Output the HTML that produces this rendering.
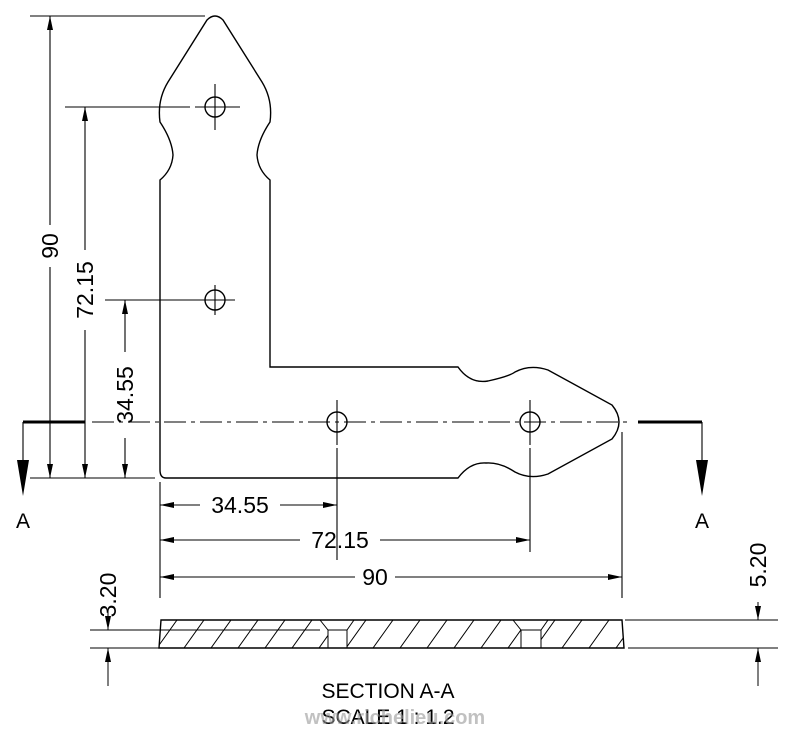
<!DOCTYPE html>
<html><head><style>body{margin:0;background:#fff}svg{display:block}text{font-family:"Liberation Sans",sans-serif;fill:#000}</style></head><body>
<svg width="792" height="733" viewBox="0 0 792 733" xmlns="http://www.w3.org/2000/svg">
<defs>
<marker id="ar" viewBox="0 0 14 6" refX="14" refY="3" markerWidth="14" markerHeight="6" markerUnits="userSpaceOnUse" orient="auto-start-reverse"><path d="M0,0L14,3L0,6z" fill="#000"/></marker>
<clipPath id="sec"><path d="M161,620L622,620L624,648L159,648z"/></clipPath>
</defs>
<g fill="none" stroke="#000" stroke-width="1.4">
<path d="M160,470 L160,180 Q172,170 173,155 Q172,140 160,122 Q157,100 168,82 L207,20 Q215,12 223,20 L262,82 Q273,100 270,122 Q258,140 257,155 Q258,170 270,180 L270,367 L458,367 Q470,384 488,381 Q510,376 515,372 Q530,364 548,370 L612,405 Q626,422 612,439 L548,474 Q530,480 515,472 Q500,462 486,463 Q470,462 458,478 L166,478 Q160,478 160,470 Z"/>
<circle cx="215" cy="107" r="10"/><circle cx="215" cy="300" r="10"/>
<circle cx="337" cy="422" r="10"/><circle cx="530" cy="422" r="10"/>
</g>
<g stroke="#000" stroke-width="1.1" fill="none">
<path d="M215,84V130M190,107H185M195,107H240M215,285V315M200,300H235"/>
<path d="M337,400V445M530,400V445"/>
<path d="M92,422H630" stroke-dasharray="22,5,4,5"/>
<path d="M30,16H205M65,107H185M105,300H200M30,478H155"/>
<path d="M50,16V225M50,267V478" marker-start="url(#ar)" marker-end="url(#ar)"/>
<path d="M85,107V250M85,330V478" marker-start="url(#ar)" marker-end="url(#ar)"/>
<path d="M125,300V352M125,438V478" marker-start="url(#ar)" marker-end="url(#ar)"/>
<path d="M160,482V598M337,448V560M530,448V552M622,432V598"/>
<path d="M160,505H200" marker-start="url(#ar)"/><path d="M280,505H337" marker-end="url(#ar)"/>
<path d="M160,540H300" marker-start="url(#ar)"/><path d="M380,540H530" marker-end="url(#ar)"/>
<path d="M160,577H355" marker-start="url(#ar)"/><path d="M395,577H622" marker-end="url(#ar)"/>
<path d="M23,422H85M638,422H702" stroke-width="3"/>
<path d="M23,422V488M702,422V488"/>
</g>
<path d="M17,460L29,460L23,496z M696,460L708,460L702,496z" fill="#000"/>
<g stroke="#000" stroke-width="1" fill="none">
<g clip-path="url(#sec)">
<path d="M130,648L150,620M157,648L177,620M184,648L204,620M211,648L231,620M238,648L258,620M265,648L285,620M292,648L312,620M319,648L339,620M346,648L366,620M373,648L393,620M400,648L420,620M427,648L447,620M454,648L474,620M481,648L501,620M508,648L528,620M535,648L555,620M562,648L582,620M589,648L609,620M616,648L636,620"/>
</g>
<rect x="328" y="630" width="19" height="18" fill="#fff" stroke="none"/>
<rect x="521" y="630" width="20" height="18" fill="#fff" stroke="none"/>
<path d="M320,620L328,630H347L354,620z M513,620L521,630H541L548,620z" fill="#fff" stroke="none"/>
<path d="M161,620L622,620L624,648L159,648z" stroke-width="1.4"/>
<path d="M320,620L328,630H347L354,620M328,630V648M347,630V648M513,620L521,630H541L548,620M521,630V648M541,630V648"/>
<path d="M90,630H320M90,648H160M625,620H778M628,648H778"/>
<path d="M108,612V630" marker-end="url(#ar)"/><path d="M108,686V648" marker-end="url(#ar)"/>
<path d="M758,602V620" marker-end="url(#ar)"/><path d="M758,686V648" marker-end="url(#ar)"/>
</g>
<g font-size="23">
<text transform="translate(58,246) rotate(-90)" text-anchor="middle">90</text>
<text transform="translate(93,290) rotate(-90)" text-anchor="middle">72.15</text>
<text transform="translate(133,395) rotate(-90)" text-anchor="middle">34.55</text>
<text transform="translate(116,595) rotate(-90)" text-anchor="middle">3.20</text>
<text transform="translate(766,565) rotate(-90)" text-anchor="middle">5.20</text>
<text x="240" y="513" text-anchor="middle">34.55</text>
<text x="340" y="548" text-anchor="middle">72.15</text>
<text x="375" y="585" text-anchor="middle">90</text>
<text x="23" y="528" text-anchor="middle" font-size="21">A</text>
<text x="702" y="528" text-anchor="middle" font-size="21">A</text>
<text x="388" y="698" text-anchor="middle" font-size="21">SECTION A-A</text>
<text x="388" y="724" text-anchor="middle" font-size="21">SCALE 1 : 1.2</text>
</g>
<text x="395" y="724" text-anchor="middle" font-size="20" style="fill:#999;opacity:.6" font-weight="bold">www.richelieu.com</text>
</svg>
</body></html>
